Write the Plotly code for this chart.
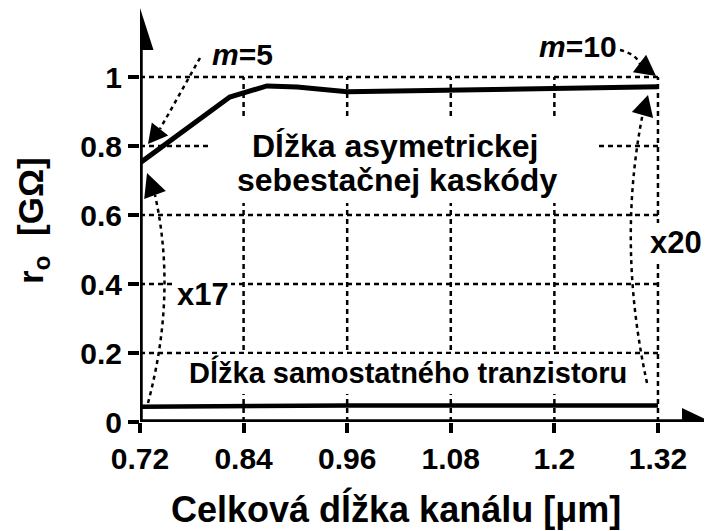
import plotly.graph_objects as go

# ---- data ----
x_cascode = [0.72, 0.824, 0.867, 0.902, 0.96, 1.08, 1.2, 1.32]
y_cascode = [0.751, 0.942, 0.974, 0.971, 0.957, 0.961, 0.966, 0.972]
x_single = [0.72, 0.84, 0.96, 1.08, 1.2, 1.32]
y_single = [0.044, 0.047, 0.048, 0.048, 0.048, 0.048]
x_ticks = [0.72, 0.84, 0.96, 1.08, 1.2, 1.32]
x_ticktext = ["0.72", "0.84", "0.96", "1.08", "1.2", "1.32"]
y_ticks = [0, 0.2, 0.4, 0.6, 0.8, 1.0]
y_ticktext = ["0", "0.2", "0.4", "0.6", "0.8", "1"]

# page has an 8px body margin: figure is shifted by OFF
OFF = 8
W, H = 712 - OFF, 531 - OFF
L, T, R = 140 - OFF, 8 - OFF, 0
B = H - (422 - OFF)
PW, PH = W - L - R, H - T - B
XR = [0.72, 1.3826]
YR = [0.0, 1.2]

FONT = "Liberation Sans, Arial, sans-serif"


def px2x(px):
    return XR[0] + (px - OFF - L) / PW * (XR[1] - XR[0])


def py2y(py):
    return YR[0] + (T + PH - (py - OFF)) / PH * (YR[1] - YR[0])


def pxp(px):
    return (px - OFF - L) / PW


def pyp(py):
    return (T + PH - (py - OFF)) / PH


def tri(tip, base_mid, half_w):
    tx, ty = tip
    bx, by = base_mid
    dx, dy = tx - bx, ty - by
    n = (dx * dx + dy * dy) ** 0.5
    nx, ny = -dy / n * half_w, dx / n * half_w
    pts = [(tx, ty), (bx + nx, by + ny), (bx - nx, by - ny)]
    return "M " + " L ".join(f"{px2x(a)},{py2y(b)}" for a, b in pts) + " Z"


fig = go.Figure()
fig.add_trace(go.Scatter(x=x_cascode, y=y_cascode, mode="lines",
                         line=dict(color="black", width=5), showlegend=False))
fig.add_trace(go.Scatter(x=x_single, y=y_single, mode="lines",
                         line=dict(color="black", width=4.5), showlegend=False))

shapes = []
grid = dict(color="black", width=2.5, dash="5px,4px")
for yv in y_ticks[1:]:
    shapes.append(dict(type="line", layer="below", x0=x_ticks[0], x1=x_ticks[-1],
                       y0=yv, y1=yv, line=grid))
for xv in x_ticks[1:]:
    shapes.append(dict(type="line", layer="below", x0=xv, x1=xv,
                       y0=y_ticks[0], y1=y_ticks[-1], line=grid))

# white masks behind text
for (x0, x1, y0, y1) in [(208, 595, 118, 203), (182, 635, 354, 394),
                         (176, 231, 281, 305), (648, 706, 223, 262)]:
    shapes.append(dict(type="rect", layer="between", x0=px2x(x0), x1=px2x(x1),
                       y0=py2y(y1), y1=py2y(y0), fillcolor="white",
                       line=dict(width=0)))

# axis lines with arrows
shapes.append(dict(type="line", layer="above", x0=px2x(140), x1=px2x(684),
                   y0=0, y1=0, line=dict(color="black", width=5.5)))
shapes.append(dict(type="line", layer="above", x0=0.72, x1=0.72,
                   y0=0, y1=py2y(48), line=dict(color="black", width=5.5)))
shapes.append(dict(type="path", layer="above", path=tri((711, 422), (682, 422), 14),
                   fillcolor="black", line=dict(width=0)))
shapes.append(dict(type="path", layer="above", path=tri((140, 8), (140, 50), 13.5),
                   fillcolor="black", line=dict(width=0)))

# dotted annotation arrows
dot = dict(color="black", width=2.5, dash="4px,4px")
shapes.append(dict(type="path", layer="above",
                   path=f"M {px2x(200)},{py2y(58)} L {px2x(160)},{py2y(129)}", line=dot))
shapes.append(dict(type="path", layer="above", path=tri((148, 144), (160, 129), 10.5),
                   fillcolor="black", line=dict(width=0)))
shapes.append(dict(type="path", layer="above",
                   path=f"M {px2x(620)},{py2y(50)} Q {px2x(636)},{py2y(54)} {px2x(640)},{py2y(64)}",
                   line=dot))
shapes.append(dict(type="path", layer="above", path=tri((656, 76), (639.5, 63.5), 11),
                   fillcolor="black", line=dict(width=0)))
shapes.append(dict(type="path", layer="above",
                   path=f"M {px2x(148)},{py2y(403)} Q {px2x(177)},{py2y(294)} {px2x(155)},{py2y(195)}",
                   line=dot))
shapes.append(dict(type="path", layer="above", path=tri((147, 173), (155, 195), 11.5),
                   fillcolor="black", line=dict(width=0)))
shapes.append(dict(type="path", layer="above",
                   path=f"M {px2x(647)},{py2y(383)} Q {px2x(617)},{py2y(245)} {px2x(642.5)},{py2y(115)}",
                   line=dot))
shapes.append(dict(type="path", layer="above", path=tri((648, 95), (642.5, 115), 11),
                   fillcolor="black", line=dict(width=0)))

ann = []


def txt(s, px, py, size, **kw):
    d = dict(text=s, x=pxp(px), y=pyp(py), xref="paper", yref="paper",
             showarrow=False, xanchor="center", yanchor="middle",
             font=dict(family=FONT, size=size, color="black", weight="bold"))
    d.update(kw)
    ann.append(d)


txt("<i>m</i>=5", 242, 55, 30)
txt("<i>m</i>=10", 578, 47, 30)
txt("Dĺžka asymetrickej", 395, 146, 32)
txt("sebestačnej kaskódy", 397, 180, 32)
txt("x17", 203, 294, 31)
txt("x20", 676, 242, 31)
txt("Dĺžka samostatného tranzistoru", 408, 372, 29)
txt("Celková dĺžka kanálu [μm]", 396, 508, 36)
txt("r<sub>o</sub>  [GΩ]", 33, 221, 35, textangle=-90)

fig.update_layout(
    width=W, height=H,
    margin=dict(l=L, r=R, t=T, b=B, autoexpand=False),
    paper_bgcolor="white", plot_bgcolor="white",
    shapes=shapes, annotations=ann,
    xaxis=dict(range=XR, tickvals=x_ticks, ticktext=x_ticktext, showgrid=False,
               zeroline=False, showline=False, ticks="outside", ticklen=10,
               tickwidth=3.5, tickcolor="black", automargin=False,
               tickfont=dict(family=FONT, size=30, color="black", weight="bold")),
    yaxis=dict(range=YR, tickvals=y_ticks, ticktext=y_ticktext, showgrid=False,
               zeroline=False, showline=False, ticks="outside", ticklen=11,
               tickwidth=3.5, tickcolor="black", automargin=False,
               tickfont=dict(family=FONT, size=30, color="black", weight="bold")),
)

fig.write_html("out.html")
